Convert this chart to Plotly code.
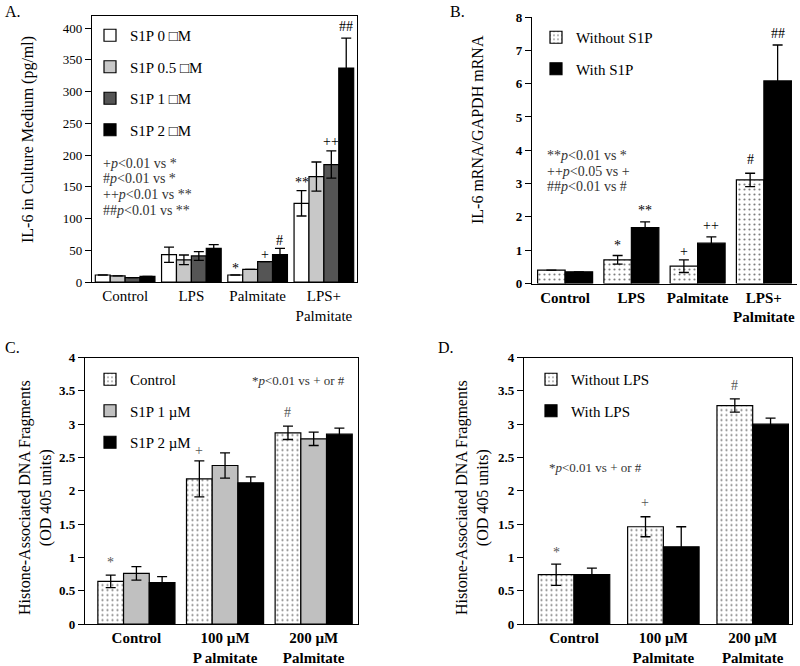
import plotly.graph_objects as go

FONT = "Liberation Serif, Times New Roman, serif"

# ---------------- Panel A data ----------------
a_cats = ["Control", "LPS", "Palmitate", "LPS+<br>Palmitate"]
a_names = ["S1P 0 \u25a1M", "S1P 0.5 \u25a1M", "S1P 1 \u25a1M", "S1P 2 \u25a1M"]
a_s1p0 = [11, 43, 11, 124]
a_s1p0_err = [0, 12, 0, 20]
a_s1p05 = [9.5, 35, 20, 166]
a_s1p05_err = [0, 7.5, 0, 23]
a_s1p1 = [7, 41, 32, 185]
a_s1p1_err = [0, 7, 0, 21.5]
a_s1p2 = [9, 53, 43, 337]
a_s1p2_err = [0, 6, 10, 47]
a_colors = ["white", "#c8c8c8", "#555555", "black"]
a_sig = [("*", 2, 0, 22), ("+", 2, 2, 43), ("#", 2, 3, 66),
         ("**", 3, 0, 156), ("++", 3, 2, 221), ("##", 3, 3, 402)]
a_notes = ["+<i>p</i>&lt;0.01 vs *", "#<i>p</i>&lt;0.01 vs *",
           "++<i>p</i>&lt;0.01 vs **", "##<i>p</i>&lt;0.01 vs **"]

# ---------------- Panel B data ----------------
b_cats = ["Control", "LPS", "Palmitate", "LPS+<br>Palmitate"]
b_names = ["Without S1P", "With S1P"]
b_without = [0.40, 0.71, 0.52, 3.11]
b_without_err = [0, 0.13, 0.19, 0.20]
b_with = [0.35, 1.68, 1.21, 6.08]
b_with_err = [0, 0.17, 0.19, 1.08]
b_sig = [("*", 1, 0, 1.13), ("**", 1, 1, 2.18), ("+", 2, 0, 0.96),
         ("++", 2, 1, 1.75), ("#", 3, 0, 3.72), ("##", 3, 1, 7.5)]
b_notes = ["**<i>p</i>&lt;0.01 vs *", "++<i>p</i>&lt;0.05 vs +", "##<i>p</i>&lt;0.01 vs #"]

# ---------------- Panel C data ----------------
c_cats = ["Control", "100 \u00b5M<br>P almitate", "200 \u00b5M<br>Palmitate"]
c_names = ["Control", "S1P 1 \u00b5M", "S1P 2 \u00b5M"]
c_control = [0.64, 2.18, 2.87]
c_control_err = [0.095, 0.27, 0.10]
c_s1p1 = [0.76, 2.38, 2.78]
c_s1p1_err = [0.10, 0.19, 0.10]
c_s1p2 = [0.62, 2.12, 2.85]
c_s1p2_err = [0.09, 0.09, 0.09]
c_sig = [("*", 0, 0, 0.93), ("+", 1, 0, 2.61), ("#", 2, 0, 3.18)]

# ---------------- Panel D data ----------------
d_cats = ["Control", "100 \u00b5M<br>Palmitate", "200 \u00b5M<br>Palmitate"]
d_names = ["Without LPS", "With LPS"]
d_without = [0.74, 1.46, 3.28]
d_without_err = [0.16, 0.15, 0.10]
d_with = [0.74, 1.16, 3.00]
d_with_err = [0.10, 0.30, 0.09]
d_sig = [("*", 0, 0, 1.08), ("+", 1, 0, 1.83), ("#", 2, 0, 3.58)]

stats_note = "*<i>p</i>&lt;0.01 vs + or #"

fig = go.Figure()

dots = dict(shape=".", fgcolor="black", bgcolor="white", size=5, solidity=0.15)


def add_bar(x, y, err, name, color, xa, ya, legend, group, pattern=False):
    marker = dict(color=color, line=dict(color="black", width=1.2))
    if pattern:
        marker["pattern"] = dots
    fig.add_trace(go.Bar(
        x=x, y=y, name=name, marker=marker, xaxis=xa, yaxis=ya,
        legend=legend, legendgroup=group,
        error_y=dict(type="data", array=err, color="black", thickness=1.3, width=5),
    ))


# Panel A
for nm, vals, errs, col in zip(a_names, [a_s1p0, a_s1p05, a_s1p1, a_s1p2],
                               [a_s1p0_err, a_s1p05_err, a_s1p1_err, a_s1p2_err], a_colors):
    add_bar(a_cats, vals, errs, nm, col, "x", "y", "legend", "a" + nm)
# Panel B
add_bar(b_cats, b_without, b_without_err, b_names[0], "white", "x2", "y2", "legend2", "b0", True)
add_bar(b_cats, b_with, b_with_err, b_names[1], "black", "x2", "y2", "legend2", "b1")
# Panel C
add_bar(c_cats, c_control, c_control_err, c_names[0], "white", "x3", "y3", "legend3", "c0", True)
add_bar(c_cats, c_s1p1, c_s1p1_err, c_names[1], "#c0c0c0", "x3", "y3", "legend3", "c1")
add_bar(c_cats, c_s1p2, c_s1p2_err, c_names[2], "black", "x3", "y3", "legend3", "c2")
# Panel D
add_bar(d_cats, d_without, d_without_err, d_names[0], "white", "x4", "y4", "legend4", "d0", True)
add_bar(d_cats, d_with, d_with_err, d_names[1], "black", "x4", "y4", "legend4", "d1")

PW, PH = 800, 666


def dom_x(l, r):
    return [l / PW, r / PW]


def dom_y(bottom, top):
    return [1 - bottom / PH, 1 - top / PH]


ann = []


def sig_ann(sigs, xref, yref, n, bargap, color="black", size=14):
    w = (1 - bargap) / n
    for txt, ci, bi, yv in sigs:
        ann.append(dict(x=ci + (bi - (n - 1) / 2) * w, y=yv, xref=xref, yref=yref,
                        xanchor="center", yanchor="middle",
                        text=txt, showarrow=False, font=dict(family=FONT, size=size, color=color)))


BG_A, BG_B, BG_C, BG_D = 0.1, 0.17, 0.13, 0.2
sig_ann(a_sig, "x", "y", 4, BG_A)
sig_ann(b_sig, "x2", "y2", 2, BG_B)
sig_ann(c_sig, "x3", "y3", 3, BG_C, color="#555555")
sig_ann(d_sig, "x4", "y4", 2, BG_D, color="#555555")

# notes
for i, t in enumerate(a_notes):
    ann.append(dict(x=101 / PW, y=1 - (163 + i * 15.7) / PH, xref="paper", yref="paper", text=t,
                    showarrow=False, xanchor="left", yanchor="middle",
                    font=dict(family=FONT, size=14, color="#333333")))
for i, t in enumerate(b_notes):
    ann.append(dict(x=545 / PW, y=1 - (155 + i * 16) / PH, xref="paper", yref="paper", text=t,
                    showarrow=False, xanchor="left", yanchor="middle",
                    font=dict(family=FONT, size=14, color="#333333")))
ann.append(dict(x=250 / PW, y=1 - 380 / PH, xref="paper", yref="paper", text=stats_note,
                showarrow=False, xanchor="left", yanchor="middle",
                font=dict(family=FONT, size=13, color="#333333")))
ann.append(dict(x=547 / PW, y=1 - 467 / PH, xref="paper", yref="paper", text=stats_note,
                showarrow=False, xanchor="left", yanchor="middle",
                font=dict(family=FONT, size=13, color="#333333")))

# axis titles
title_font = dict(family=FONT, size=16, color="black")
for txt, cx, cy in [("IL-6 in Culture Medium (pg/ml)", 28, 140),
                    ("IL-6 mRNA/GAPDH mRNA", 478, 130),
                    ("Histone-Associated DNA Fragments<br>(OD 405 units)", 35, 498),
                    ("Histone-Associated DNA Fragments<br>(OD 405 units)", 472, 498)]:
    ann.append(dict(x=cx / PW, y=1 - cy / PH, xref="paper", yref="paper", textangle=-90,
                    showarrow=False, xanchor="center", yanchor="middle", text=txt, font=title_font))

# panel letters
for txt, x, y in [("A.", 3, 11), ("B.", 448, 11), ("C.", 3, 347), ("D.", 436, 347)]:
    ann.append(dict(x=x / PW, y=1 - y / PH, xref="paper", yref="paper", text=txt, showarrow=False,
                    xanchor="left", yanchor="middle", font=dict(family=FONT, size=16, color="black")))

axis_common = dict(showline=True, linecolor="black", linewidth=1.3, showgrid=False, zeroline=False,
                   automargin=False)
xt_font = dict(family=FONT, size=15, color="black")
yt_font = dict(family=FONT, size=13, color="black")
yt_bold = dict(family=FONT, size=13, color="black", weight="bold")
xt_bold = dict(family=FONT, size=15, color="black", weight="bold")

legend_common = dict(font=dict(family=FONT, size=15, color="black"), bgcolor="rgba(0,0,0,0)",
                     tracegroupgap=9, xanchor="left", yanchor="top", traceorder="grouped")

fig.update_layout(
    width=PW, height=PH, margin=dict(l=0, r=0, t=0, b=0, pad=0, autoexpand=False),
    paper_bgcolor="white", plot_bgcolor="white",
    barmode="group", bargroupgap=0,
    showlegend=True,
    xaxis=dict(domain=dom_x(92, 357), anchor="y", range=[-0.5, 3.5], mirror=True,
               ticks="", tickfont=xt_font, **axis_common),
    yaxis=dict(domain=dom_y(282, 16), anchor="x", range=[0, 419], mirror=True,
               ticks="outside", ticklen=6, tickwidth=1.3, tickcolor="black", dtick=50,
               tickfont=yt_font, **axis_common),
    xaxis2=dict(domain=dom_x(532, 797), anchor="y2", range=[-0.5, 3.5],
                ticks="", tickfont=xt_bold, **axis_common),
    yaxis2=dict(domain=dom_y(283.5, 17), anchor="x2", range=[0, 8],
                ticks="outside", ticklen=6, tickwidth=1.3, tickcolor="black", dtick=1,
                tickfont=yt_bold, **axis_common),
    xaxis3=dict(domain=dom_x(85, 358), anchor="y3", range=[-0.58, 2.5], mirror=True,
                ticks="", tickfont=xt_bold, **axis_common),
    yaxis3=dict(domain=dom_y(624, 357.6), anchor="x3", range=[0, 4], mirror=True,
                ticks="outside", ticklen=6, tickwidth=1.3, tickcolor="black", dtick=0.5,
                tickfont=yt_bold, **axis_common),
    xaxis4=dict(domain=dom_x(524, 792), anchor="y4", range=[-0.56, 2.44], mirror=True,
                ticks="", tickfont=xt_bold, **axis_common),
    yaxis4=dict(domain=dom_y(624, 357.6), anchor="x4", range=[0, 4], mirror=True,
                ticks="outside", ticklen=6, tickwidth=1.3, tickcolor="black", dtick=0.5,
                tickfont=yt_bold, **axis_common),
    legend=dict(x=90 / PW, y=1 - 19 / PH, **legend_common),
    legend2=dict(x=536 / PW, y=1 - 21 / PH, **legend_common),
    legend3=dict(x=90 / PW, y=1 - 363 / PH, **legend_common),
    legend4=dict(x=531 / PW, y=1 - 363 / PH, **legend_common),
    annotations=ann,
)


def set_geometry(indices, n, bargap):
    w = (1 - bargap) / n
    for k, idx in enumerate(indices):
        fig.data[idx].width = w
        fig.data[idx].offset = -(1 - bargap) / 2 + k * w


set_geometry([0, 1, 2, 3], 4, BG_A)
set_geometry([4, 5], 2, BG_B)
set_geometry([6, 7, 8], 3, BG_C)
set_geometry([9, 10], 2, BG_D)

fig.write_html("out.html", config={"displayModeBar": False},
               post_script="document.body.style.margin='0px';")
